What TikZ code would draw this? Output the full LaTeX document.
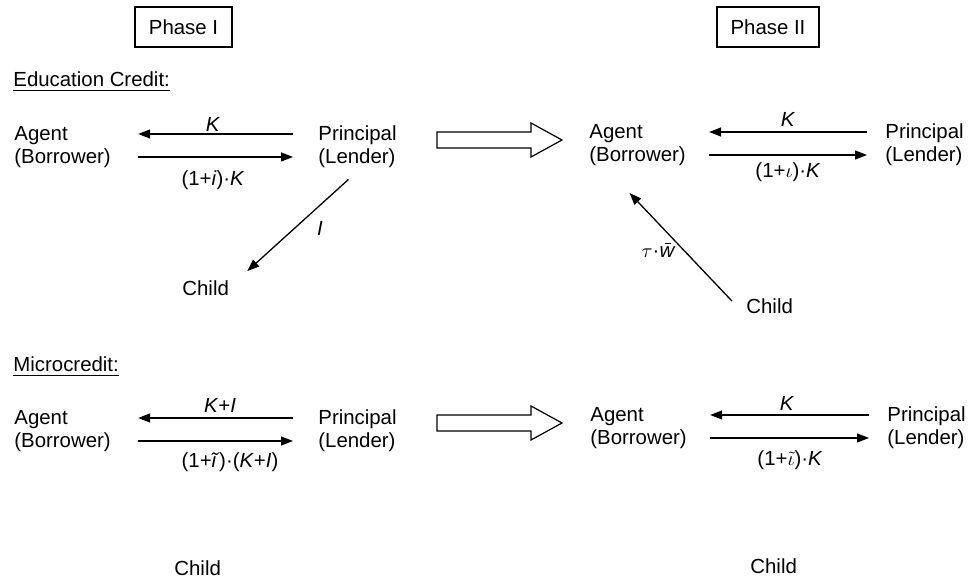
\documentclass[tikz,border=0pt]{standalone}
\usepackage{fontspec}
\setmainfont{Liberation Sans}
\usetikzlibrary{arrows.meta, positioning}

\begin{document}
\begin{tikzpicture}[x=0.5pt, y=-0.5pt, every node/.style={font=\fontsize{10.2}{11.5}\selectfont}]
    % Define styles
    \tikzstyle{party} = [anchor=west, align=left, inner sep=0pt]
    \tikzstyle{flowlabel} = [inner sep=0pt]
    \tikzstyle{heading} = [anchor=base west, inner sep=0pt]
    \tikzstyle{phasebox} = [rectangle, draw=black, line width=0.6pt, minimum height=20pt, inner sep=0pt]
    \tikzstyle{arrow} = [line width=0.65pt, -{Triangle[length=6pt, width=4.5pt]}]
    \tikzstyle{shiftarrow} = [draw=black, line width=0.6pt, fill=white]

    \useasboundingbox (0,0) rectangle (974,581);

    % Phase headers
    \node (phaseA) [phasebox, minimum width=48.5pt] at (183.5, 27) {Phase I};
    \node (phaseB) [phasebox, minimum width=51pt] at (768, 27) {Phase II};

    % Education credit
    \node (eduTitle) [heading] at (13, 87) {\underline{Education Credit:}};
    \node (agentEduA) [party] at (14, 147) {Agent\\(Borrower)};
    \node (prinEduA) [party] at (318, 147) {Principal\\(Lender)};
    \node (childEduA) [party] at (182, 288) {Child};
    \node (agentEduB) [party] at (589, 145) {Agent\\(Borrower)};
    \node (prinEduB) [party] at (885, 145) {Principal\\(Lender)};
    \node (childEduB) [party] at (746, 306) {Child};

    % Microcredit
    \node (micTitle) [heading] at (13, 372) {\underline{Microcredit:}};
    \node (agentMicA) [party] at (14, 431) {Agent\\(Borrower)};
    \node (prinMicA) [party] at (318, 431) {Principal\\(Lender)};
    \node (childMicA) [party] at (174, 568) {Child};
    \node (agentMicB) [party] at (590, 428) {Agent\\(Borrower)};
    \node (prinMicB) [party] at (887, 428) {Principal\\(Lender)};
    \node (childMicB) [party] at (750, 566) {Child};

    % Phase I -> Phase II
    \draw [shiftarrow] (437,132) -- (531,132) -- (531,123) -- (562,140) -- (531,157) -- (531,148) -- (437,148) -- cycle;
    \draw [shiftarrow] (437,415) -- (531,415) -- (531,406) -- (562,423) -- (531,440) -- (531,431) -- (437,431) -- cycle;

    % Education credit flows
    \draw [arrow] ([xshift=-12.5pt, yshift=6.5pt]prinEduA.west) -- ([xshift=13.5pt, yshift=6.5pt]agentEduA.east);
    \draw [arrow] ([xshift=13.5pt, yshift=-5pt]agentEduA.east) -- ([xshift=-12.5pt, yshift=-5pt]prinEduA.west);
    \draw [arrow] ([xshift=-4.5pt, yshift=-5.5pt]prinEduA.south) -- ([xshift=9pt, yshift=4.5pt]childEduA.north east);
    \draw [arrow] ([xshift=-9pt, yshift=6.5pt]prinEduB.west) -- ([xshift=11.5pt, yshift=6.5pt]agentEduB.east);
    \draw [arrow] ([xshift=11.5pt, yshift=-5pt]agentEduB.east) -- ([xshift=-9pt, yshift=-5pt]prinEduB.west);
    \draw [arrow] ([xshift=-7pt, yshift=-1.5pt]childEduB.north west) -- ([xshift=-4pt, yshift=-13.5pt]agentEduB.south);

    % Microcredit flows
    \draw [arrow] ([xshift=-12.5pt, yshift=6.5pt]prinMicA.west) -- ([xshift=13.5pt, yshift=6.5pt]agentMicA.east);
    \draw [arrow] ([xshift=13.5pt, yshift=-5pt]agentMicA.east) -- ([xshift=-12.5pt, yshift=-5pt]prinMicA.west);
    \draw [arrow] ([xshift=-9pt, yshift=6.5pt]prinMicB.west) -- ([xshift=11.5pt, yshift=6.5pt]agentMicB.east);
    \draw [arrow] ([xshift=11.5pt, yshift=-5pt]agentMicB.east) -- ([xshift=-9pt, yshift=-5pt]prinMicB.west);

    % Flow labels
    \node (kEduA) [flowlabel] at (213, 124.5) {\textit{K}};
    \node (payEduA) [flowlabel] at (213, 180) {(1+\textit{i})\textperiodcentered\textit{K}};
    \node (invEduA) [flowlabel] at (320, 228) {\textit{I}};
    \node (kEduB) [flowlabel] at (788, 119) {\textit{K}};
    \node (payEduB) [flowlabel] at (788, 172) {(1+$\iota$)\textperiodcentered\textit{K}};
    \node (taxEduB) [flowlabel] at (658, 252) {$\tau$\textperiodcentered\textit{\ooalign{w\cr\hidewidth\kern0.12em\raisebox{0.66em}{\rule{0.28em}{0.06em}}\hidewidth\cr}}};
    \node (kMicA) [flowlabel] at (220, 405) {\textit{K}+\textit{I}};
    \node (payMicA) [flowlabel] at (230, 462) {(1+\textit{\~i})\textperiodcentered(\textit{K}+\textit{I})};
    \node (kMicB) [flowlabel] at (787, 403) {\textit{K}};
    \node (payMicB) [flowlabel] at (790, 460) {(1+$\tilde{\iota}$)\textperiodcentered\textit{K}};
\end{tikzpicture}
\end{document}
